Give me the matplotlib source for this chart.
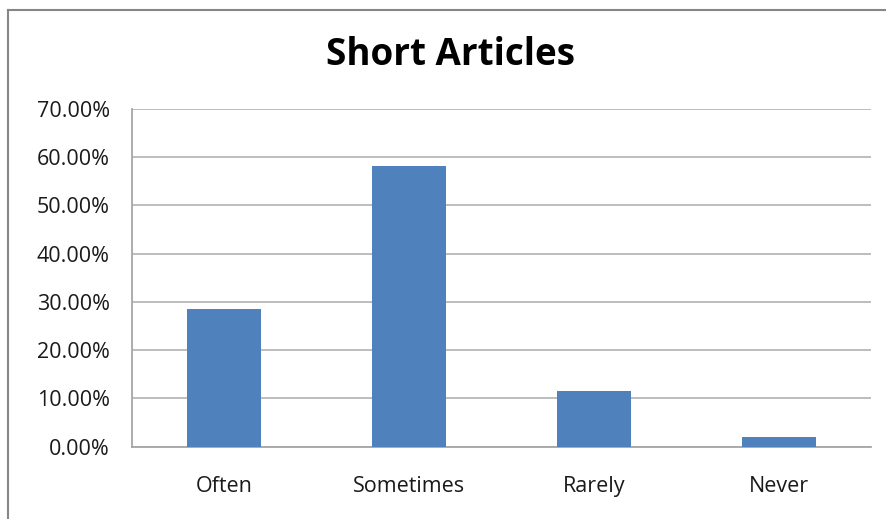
import numpy as np
import matplotlib
matplotlib.use('Agg')
import matplotlib.pyplot as plt
from matplotlib.lines import Line2D

categories = ['Often', 'Sometimes', 'Rarely', 'Never']
shares = [0.286, 0.581, 0.115, 0.020]
yticks = [0.0, 0.1, 0.2, 0.3, 0.4, 0.5, 0.6, 0.7]

plt.rcParams['font.family'] = ['Open Sans', 'DejaVu Sans']

fig = plt.figure(figsize=(8.86, 5.19), dpi=100)
ax = fig.add_axes([132/886, 1-446.7/519, (871-132)/886, (446.7-109)/519])

x = np.arange(len(categories))
ax.bar(x, shares, width=0.4, color='#4f81bd', zorder=3)

ax.set_xlim(-0.5, len(categories)-0.5)
ax.set_ylim(0, 0.7)
ax.set_yticks(yticks)
ax.set_yticklabels(['%.2f%%' % (v*100) for v in yticks])
ax.set_xticks(x)
ax.set_xticklabels(categories)
ax.tick_params(axis='y', length=0, pad=16, labelsize=15.5, labelcolor='#1a1a1a')
ax.tick_params(axis='x', length=0, pad=21, labelsize=15.5, labelcolor='#1a1a1a')

ax.grid(axis='y', color='#b8b8b8', linewidth=1.3, zorder=0)
for side in ['top', 'right']:
    ax.spines[side].set_visible(False)
ax.spines['left'].set_color('#a6a6a6')
ax.spines['bottom'].set_color('#a6a6a6')
ax.spines['left'].set_linewidth(1.3)
ax.spines['bottom'].set_linewidth(1.3)

fig.text(451/886, 1-55/519, 'Short Articles', ha='center', va='center',
         fontsize=26.5, fontweight='bold', color='#000000')

# chart frame, only the top and left edges are inside the picture
fig.add_artist(Line2D([8/886, 8/886], [0, 1-10/519], transform=fig.transFigure,
                      color='#868686', linewidth=1.5))
fig.add_artist(Line2D([8/886, 1], [1-10/519, 1-10/519], transform=fig.transFigure,
                      color='#868686', linewidth=1.5))

fig.savefig('out.png', dpi=100)
